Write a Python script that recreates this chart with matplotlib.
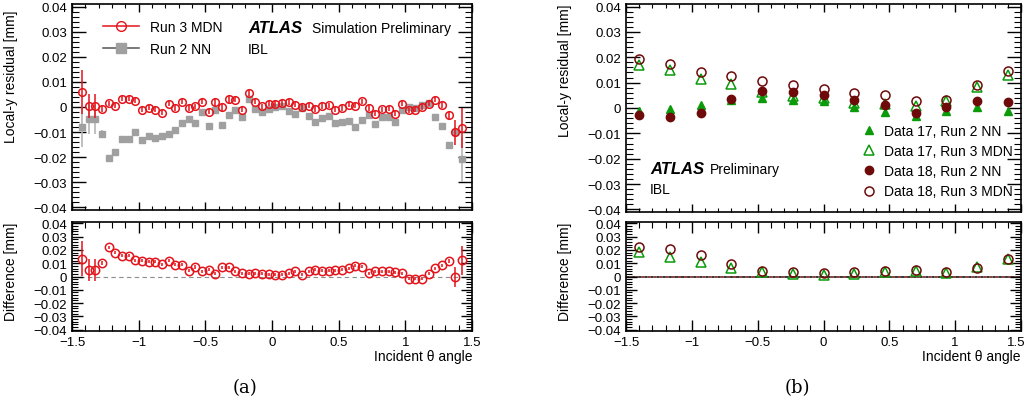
import numpy as np
import matplotlib
matplotlib.use("Agg")
import matplotlib.pyplot as plt
import matplotlib.transforms as mtransforms
from matplotlib.lines import Line2D
from matplotlib.ticker import MultipleLocator

plt.rcParams['font.family'] = ['Liberation Sans', 'DejaVu Sans']
plt.rcParams['axes.unicode_minus'] = True

# ---- panel (a): simulation, 0.05 wide bins ----
theta_a = [-1.425, -1.375, -1.325, -1.275, -1.225, -1.175, -1.125, -1.075, -1.025, -0.975,
           -0.925, -0.875, -0.825, -0.775, -0.725, -0.675, -0.625, -0.575, -0.525, -0.475,
           -0.425, -0.375, -0.325, -0.275, -0.225, -0.175, -0.125, -0.075, -0.025,
           0.025, 0.075, 0.125, 0.175, 0.225, 0.275, 0.325, 0.375, 0.425, 0.475,
           0.525, 0.575, 0.625, 0.675, 0.725, 0.775, 0.825, 0.875, 0.925, 0.975,
           1.025, 1.075, 1.125, 1.175, 1.225, 1.275, 1.325, 1.375, 1.425]
mdn_a = [0.0059, 0.0005, 0.0005, -0.0007, 0.0015, 0.0005, 0.0032, 0.0033, 0.0025, -0.0011,
         -0.0003, -0.0011, -0.0023, 0.0013, -0.0004, 0.002, -0.0004, 0.0003, 0.002, -0.0019,
         0.002, -0.0001, 0.003, 0.0028, -0.0011, 0.0057, 0.0021, 0.0003, 0.0012,
         0.0013, 0.0016, 0.0019, 0.0009, 0.0, 0.0005, -0.0008, 0.0004, 0.0007, -0.0011,
         -0.0004, 0.0009, 0.0005, 0.0023, -0.0004, -0.0027, -0.0009, -0.0007, -0.0027, 0.0012,
         -0.0013, -0.0011, 0.0, 0.0013, 0.0029, 0.0008, -0.0033, -0.010, -0.0084]
mdn_err = [0.0087, 0.0047, 0.0047, 0.0012, 0.001, 0.001, 0.001, 0.001, 0.001, 0.001,
           0.001, 0.001, 0.001, 0.001, 0.001, 0.001, 0.001, 0.001, 0.001, 0.001,
           0.0015, 0.0015, 0.0015, 0.001, 0.001, 0.0012, 0.001, 0.001, 0.001,
           0.0012, 0.0012, 0.0012, 0.001, 0.001, 0.001, 0.001, 0.0012, 0.001, 0.001,
           0.001, 0.001, 0.001, 0.001, 0.001, 0.001, 0.001, 0.001, 0.001, 0.001,
           0.001, 0.001, 0.001, 0.001, 0.001, 0.0012, 0.0015, 0.005, 0.008]
nn_a = [-0.0081, -0.0048, -0.0048, -0.0108, -0.0204, -0.0181, -0.0128, -0.0128, -0.0099, -0.0132,
        -0.0115, -0.0124, -0.0117, -0.0107, -0.0092, -0.0065, -0.0047, -0.0065, -0.002, -0.0075,
        -0.0011, -0.0071, -0.0031, -0.0011, -0.0041, 0.0033, -0.0008, -0.0021, -0.0008,
        0.0, 0.0005, -0.0017, -0.0028, -0.0004, -0.0037, -0.0061, -0.0044, -0.0037, -0.0064,
        -0.0061, -0.0057, -0.0081, -0.0051, -0.0031, -0.0067, -0.0041, -0.0039, -0.006, -0.0011,
        -0.0001, -0.0004, 0.0009, 0.0016, -0.0041, -0.0075, -0.0153, -0.010, -0.0208]
nn_err = [0.008, 0.006, 0.006, 0.0015, 0.001, 0.001, 0.001, 0.001, 0.001, 0.001,
          0.001, 0.001, 0.001, 0.001, 0.001, 0.001, 0.001, 0.001, 0.001, 0.001,
          0.001, 0.001, 0.001, 0.001, 0.001, 0.001, 0.001, 0.001, 0.001,
          0.001, 0.001, 0.001, 0.001, 0.001, 0.001, 0.001, 0.001, 0.001, 0.001,
          0.001, 0.001, 0.001, 0.001, 0.001, 0.001, 0.001, 0.001, 0.001, 0.001,
          0.001, 0.001, 0.001, 0.001, 0.001, 0.0012, 0.0015, 0.002, 0.009]
diff_a = [0.0134, 0.0048, 0.0048, 0.0101, 0.022, 0.0179, 0.0157, 0.0157, 0.0121, 0.0119,
          0.0111, 0.0111, 0.0093, 0.0119, 0.0088, 0.0088, 0.0043, 0.0071, 0.0038, 0.0051,
          0.002, 0.0068, 0.0068, 0.0038, 0.0025, 0.002, 0.0025, 0.002, 0.0018,
          0.0013, 0.0013, 0.0025, 0.0038, 0.0013, 0.0038, 0.0051, 0.0043, 0.0043, 0.0048,
          0.0051, 0.0063, 0.0081, 0.0073, 0.0025, 0.0038, 0.0038, 0.0038, 0.0033, 0.0025,
          -0.0018, -0.0018, -0.0018, 0.002, 0.0063, 0.0083, 0.0119, -0.0005, 0.0121]
diff_err = [0.0133, 0.008, 0.008, 0.0015, 0.0012, 0.0012, 0.0012, 0.0012, 0.0012, 0.0012,
            0.0012, 0.0012, 0.0012, 0.0012, 0.0012, 0.0012, 0.0012, 0.0012, 0.0012, 0.0012,
            0.0012, 0.0012, 0.0012, 0.0012, 0.0012, 0.0012, 0.0012, 0.0012, 0.0012,
            0.0012, 0.0012, 0.0012, 0.0012, 0.0012, 0.0012, 0.0012, 0.0012, 0.0012, 0.0012,
            0.0012, 0.0012, 0.0012, 0.0012, 0.0012, 0.0012, 0.0012, 0.0012, 0.0012, 0.0012,
            0.0012, 0.0012, 0.0012, 0.0012, 0.0012, 0.0012, 0.0015, 0.0075, 0.011]

# ---- panel (b): data 2017 / 2018, wide bins ----
theta_b = [-1.4, -1.167, -0.933, -0.7, -0.467, -0.233, 0.0, 0.233, 0.467, 0.7, 0.933, 1.167, 1.4]
d17_nn = [-0.001, -0.0003, 0.001, 0.003, 0.004, 0.0033, 0.0026, 0.0004, -0.0015, -0.003, -0.0012, 0.0004, -0.0012]
d17_mdn = [0.0169, 0.0148, 0.0116, 0.0094, 0.0064, 0.0048, 0.0038, 0.0021, 0.0015, 0.0008, 0.0027, 0.0084, 0.0129]
d18_nn = [-0.0028, -0.0036, -0.0018, 0.0036, 0.0066, 0.0064, 0.0053, 0.0032, 0.0012, -0.0019, 0.0003, 0.0028, 0.0022]
d18_mdn = [0.0193, 0.0172, 0.014, 0.0126, 0.0107, 0.009, 0.0075, 0.0059, 0.0051, 0.0026, 0.0032, 0.0091, 0.0147]
diff17 = [0.0183, 0.0149, 0.011, 0.0061, 0.0032, 0.002, 0.0015, 0.002, 0.0037, 0.0039, 0.0024, 0.0073, 0.0129]
diff18 = [0.022, 0.021, 0.0159, 0.0093, 0.0039, 0.0032, 0.0024, 0.0032, 0.0044, 0.0049, 0.0032, 0.0066, 0.0129]

red = '#e3141b'
grey = '#a0a0a0'
green = '#0a9a0a'
darkred = '#6e0a0a'

W, H = 1028, 406
fig = plt.figure(figsize=(W / 100, H / 100), dpi=100)


def box(x0, y0, x1, y1):
    # pixel box (from top-left) -> figure rect
    return [x0 / W, 1 - y1 / H, (x1 - x0) / W, (y1 - y0) / H]


ax_a = fig.add_axes(box(72, 5, 472, 211))
ax_ar = fig.add_axes(box(72, 223, 472, 332))
ax_b = fig.add_axes(box(626, 5, 1021, 213))
ax_br = fig.add_axes(box(626, 223, 1021, 332))


def root_style(ax, top_panel):
    ax.set_xlim(-1.5, 1.5)
    ax.set_ylim(-0.041, 0.041)
    ax.xaxis.set_major_locator(MultipleLocator(0.5))
    ax.xaxis.set_minor_locator(MultipleLocator(0.1))
    ax.yaxis.set_major_locator(MultipleLocator(0.01))
    ax.yaxis.set_minor_locator(MultipleLocator(0.002))
    ax.tick_params(which='both', direction='in', top=True, right=True, labelsize=9.5)
    if top_panel:
        ax.tick_params(axis='y', which='major', length=10, width=1)
        ax.tick_params(axis='y', which='minor', length=5, width=0.8)
        ax.tick_params(axis='x', which='major', length=6, width=1)
        ax.tick_params(axis='x', which='minor', length=3, width=0.8)
        ax.tick_params(axis='x', labelbottom=False)
    else:
        ax.tick_params(axis='y', which='major', length=8, width=1)
        ax.tick_params(axis='y', which='minor', length=4, width=0.8)
        ax.tick_params(axis='x', which='major', length=8, width=1)
        ax.tick_params(axis='x', which='minor', length=4, width=0.8)
    for s in ax.spines.values():
        s.set_linewidth(1.2)
    ax.set_yticks([-0.04, -0.03, -0.02, -0.01, 0, 0.01, 0.02, 0.03, 0.04])
    ax.set_yticklabels(['\u22120.04', '\u22120.03', '\u22120.02', '\u22120.01', '0',
                        '0.01', '0.02', '0.03', '0.04'])


for ax in (ax_a, ax_b):
    root_style(ax, True)
    ax.set_ylabel('Local-y residual [mm]', fontsize=10, loc='top')
for ax in (ax_ar, ax_br):
    root_style(ax, False)
    ax.set_xticks([-1.5, -1, -0.5, 0, 0.5, 1, 1.5])
    ax.set_xticklabels(['\u22121.5', '\u22121', '\u22120.5', '0', '0.5', '1', '1.5'])
    ax.set_xlabel('Incident \u03b8 angle', loc='right', fontsize=10, labelpad=1)
    ax.set_ylabel('Difference [mm]', fontsize=10, loc='top')

# keep the last tick label of the right panel inside the canvas
last = ax_br.get_xticklabels()[-1]
last.set_transform(last.get_transform() + mtransforms.ScaledTranslation(-5 / 100, 0, fig.dpi_scale_trans))

ax_a.yaxis.set_label_coords(-0.135, 0.975)
ax_b.yaxis.set_label_coords(-0.137, 1.0)
ax_ar.yaxis.set_label_coords(-0.135, 1.0)
ax_br.yaxis.set_label_coords(-0.137, 1.0)

# (a) top
ax_a.errorbar(theta_a, nn_a, yerr=nn_err, fmt='s', ms=5, color=grey, mec=grey,
              ecolor='#b5b5b5', elinewidth=1.2, capsize=0, zorder=2)
ax_a.errorbar(theta_a, mdn_a, yerr=mdn_err, fmt='o', ms=5.5, color=red, mfc='none',
              mec=red, mew=1.1, ecolor=red, elinewidth=1.1, capsize=0, zorder=3)
leg_a = [Line2D([], [], color=red, marker='o', mfc='none', mec=red, ms=7, lw=1.1),
         Line2D([], [], color='#555555', marker='s', mfc=grey, mec=grey, ms=7, lw=1.1)]
ax_a.legend(leg_a, ['Run 3 MDN', 'Run 2 NN'], loc='upper left', frameon=False,
            fontsize=10, handlelength=2.6, labelspacing=0.6, bbox_to_anchor=(0.045, 0.985))
ax_a.text(0.44, 0.885, 'ATLAS', transform=ax_a.transAxes, fontsize=12,
          fontweight='bold', fontstyle='italic', va='center')
ax_a.text(0.6, 0.885, 'Simulation Preliminary', transform=ax_a.transAxes,
          fontsize=10, va='center')
ax_a.text(0.44, 0.78, 'IBL', transform=ax_a.transAxes, fontsize=10, va='center')

# (a) ratio
ax_ar.axhline(0, color='#8c8c8c', lw=0.8, ls=(0, (4, 3)), zorder=1)
ax_ar.errorbar(theta_a, diff_a, yerr=diff_err, fmt='o', ms=6, color=red, mfc='none',
               mec=red, mew=1.1, ecolor=red, elinewidth=1.1, capsize=0, zorder=3)

# (b) top
ax_b.plot(theta_b, d17_nn, '^', ms=5.5, color=green, mec=green, ls='none', label='Data 17, Run 2 NN')
ax_b.plot(theta_b, d17_mdn, '^', ms=6.5, mfc='none', mec=green, mew=1.1, ls='none',
          label='Data 17, Run 3 MDN')
ax_b.plot(theta_b, d18_nn, 'o', ms=6, color=darkred, mec=darkred, ls='none',
          label='Data 18, Run 2 NN')
ax_b.plot(theta_b, d18_mdn, 'o', ms=6.5, mfc='none', mec=darkred, mew=1.1, ls='none',
          label='Data 18, Run 3 MDN')
ax_b.legend(loc='lower right', frameon=False, fontsize=10, handlelength=1.0,
            handletextpad=0.6, labelspacing=0.45, bbox_to_anchor=(1.012, 0.005))
ax_b.text(0.061, 0.207, 'ATLAS', transform=ax_b.transAxes, fontsize=12,
          fontweight='bold', fontstyle='italic', va='center')
ax_b.text(0.213, 0.207, 'Preliminary', transform=ax_b.transAxes, fontsize=10, va='center')
ax_b.text(0.061, 0.11, 'IBL', transform=ax_b.transAxes, fontsize=10, va='center')

# (b) ratio
ax_br.axhline(0, color='black', lw=1.1, ls=(0, (2, 2)), zorder=1)
ax_br.axhline(0, color=darkred, lw=1.1, ls=(2, (2, 2)), zorder=1)
ax_br.plot(theta_b, diff17, '^', ms=6.5, mfc='none', mec=green, mew=1.1, ls='none', zorder=3)
ax_br.plot(theta_b, diff18, 'o', ms=6.5, mfc='none', mec=darkred, mew=1.1, ls='none', zorder=3)

fig.text(245 / W, 1 - 388 / H, '(a)', fontsize=13, family=['DejaVu Serif'], ha='center', va='center')
fig.text(797 / W, 1 - 388 / H, '(b)', fontsize=13, family=['DejaVu Serif'], ha='center', va='center')

fig.savefig('out.png', dpi=100)
